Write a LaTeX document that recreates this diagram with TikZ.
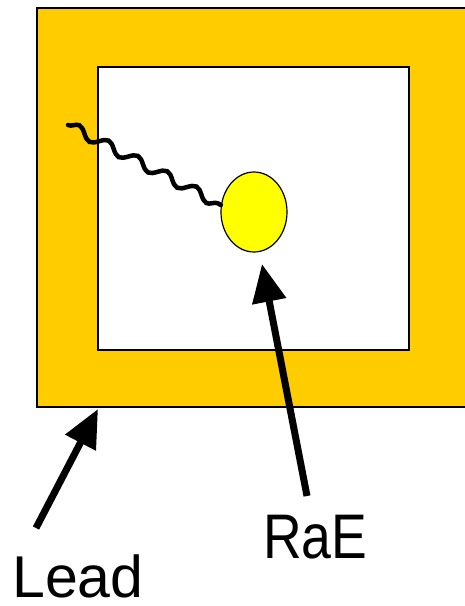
\documentclass[tikz,border=0pt]{standalone}
\usepackage{fontspec}
\setmainfont{Liberation Sans}
\usetikzlibrary{positioning,calc}
\usetikzlibrary{arrows.meta,decorations.pathmorphing,shapes.geometric}
\definecolor{LeadGold}{RGB}{255,204,0}
\definecolor{AtomYellow}{RGB}{255,255,0}
\tikzset{
  shield/.style={draw=black,fill=LeadGold,line width=1.5pt},
  hole/.style={draw=black,fill=white,line width=1.5pt},
  atom/.style={ellipse,draw=black,fill=AtomYellow,line width=1.2pt,
    minimum width=66pt,minimum height=80pt,inner sep=0pt},
  wave/.style={draw=black,line width=4.5pt,line cap=round,
    decorate,decoration={snake,segment length=33pt,amplitude=5pt}},
  pointer/.style={draw=black,line width=7pt,
    -{Triangle[length=38pt,width=33pt]}},
  tag/.style={inner sep=0pt,font=\fontsize{59}{70}\selectfont},
}

\begin{document}
\begin{tikzpicture}[x=1pt,y=-1pt]
\useasboundingbox (0,0) rectangle (464,606);
\draw[shield] (37,8) rectangle (480,407);
\draw[hole] (98,67) rectangle (409,350);
\node[atom] (rae) at (254,212) {};
\coordinate (tail) at (68,125);
\draw[wave] (tail) -- (rae.168);
\coordinate (leadtail) at (36,528);
\coordinate (leadtip) at (98,409);
\coordinate (raetail) at (307,496);
\coordinate (raetip) at (262,264);
\draw[pointer] (leadtail) -- (leadtip);
\draw[pointer] (raetail) -- (raetip);
\node[tag,anchor=base west] (lead) at (12,597) {Lead};
\node[tag,anchor=base west,font=\fontsize{63}{70}\selectfont] (raelabel) at (263,558) {\scalebox{0.85}[1]{RaE}};
\end{tikzpicture}
\end{document}
